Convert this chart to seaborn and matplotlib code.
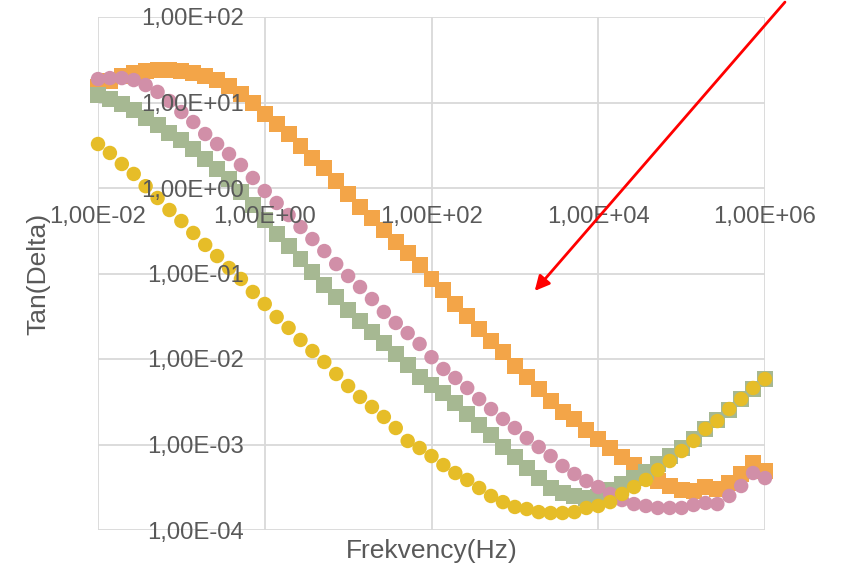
import pandas as pd
import seaborn as sns
import matplotlib.pyplot as plt

# frekvence (Hz), 7 bodu na dekadu
freq = [0.01, 0.01389, 0.01931, 0.02683, 0.03728, 0.05179, 0.07197,
        0.1, 0.1389, 0.1931, 0.2683, 0.3728, 0.5179, 0.7197,
        1, 1.389, 1.931, 2.683, 3.728, 5.179, 7.197,
        10, 13.89, 19.31, 26.83, 37.28, 51.79, 71.97,
        100, 138.9, 193.1, 268.3, 372.8, 517.9, 719.7,
        1000, 1389, 1931, 2683, 3728, 5179, 7197,
        10000, 13890, 19310, 26830, 37280, 51790, 71970,
        100000, 138900, 193100, 268300, 372800, 517900, 719700,
        1000000]

tan_orange = [15.2, 17.8, 20.4, 22.1, 23.4, 24.0, 24.0,
              23.4, 22.1, 20.4, 18.3, 15.6, 12.6, 9.87,
              7.33, 5.60, 4.28, 3.10, 2.24, 1.71, 1.21,
              0.851, 0.600, 0.446, 0.323, 0.234, 0.174, 0.126,
              0.0863, 0.0641, 0.0440, 0.0318, 0.0224, 0.0162, 0.0121,
              0.00828, 0.00616, 0.00446, 0.00323, 0.00240, 0.00199, 0.00148,
              0.00116, 0.000910, 0.000714, 0.000575, 0.000452, 0.000374, 0.000327,
              0.000294, 0.000286, 0.000318, 0.000302, 0.000355, 0.000452, 0.000608,
              0.000490]

tan_green = [12.2, 11.0, 9.60, 8.17, 6.59, 5.45, 4.40,
             3.64, 2.86, 2.18, 1.67, 1.27, 0.898, 0.633,
             0.422, 0.290, 0.210, 0.148, 0.104, 0.0733, 0.0531,
             0.0374, 0.0278, 0.0207, 0.0154, 0.0114, 0.00851, 0.00616,
             0.00496, 0.00400, 0.00306, 0.00227, 0.00169, 0.00129, 0.000935,
             0.000714, 0.000531, 0.000406, 0.000310, 0.000271, 0.000250, 0.000237,
             0.000243, 0.000294, 0.000345, 0.000406, 0.000476, 0.000591, 0.000733,
             0.000910, 0.00116, 0.00152, 0.00194, 0.00253, 0.00340, 0.00446,
             0.00583]

tan_pink = [18.8, 19.3, 19.3, 18.3, 16.0, 13.3, 10.4,
            7.74, 5.91, 4.28, 3.27, 2.50, 1.86, 1.31,
            0.922, 0.668, 0.483, 0.350, 0.253, 0.183, 0.129,
            0.0935, 0.0695, 0.0503, 0.0355, 0.0264, 0.0201, 0.0150,
            0.0105, 0.00764, 0.00600, 0.00458, 0.00340, 0.00260, 0.00199,
            0.00156, 0.00119, 0.000935, 0.000733, 0.000561, 0.000452, 0.000374,
            0.000318, 0.000264, 0.000224, 0.000201, 0.000191, 0.000181, 0.000181,
            0.000181, 0.000196, 0.000207, 0.000201, 0.000250, 0.000327, 0.000464,
            0.000405]

tan_yellow = [3.27, 2.57, 1.91, 1.46, 1.05, 0.764, 0.553,
              0.411, 0.298, 0.216, 0.160, 0.116, 0.0863, 0.0608,
              0.0440, 0.0310, 0.0231, 0.0167, 0.0124, 0.00923, 0.00668,
              0.00483, 0.00360, 0.00275, 0.00210, 0.00156, 0.00110, 0.000910,
              0.000733, 0.000575, 0.000464, 0.000385, 0.000310, 0.000250, 0.000212,
              0.000186, 0.000176, 0.000162, 0.000158, 0.000158, 0.000162, 0.000181,
              0.000191, 0.000212, 0.000264, 0.000318, 0.000385, 0.000503, 0.000641,
              0.000839, 0.00110, 0.00152, 0.00188, 0.00260, 0.00340, 0.00458,
              0.00583]

x_ticks = [1e-2, 1e0, 1e2, 1e4, 1e6]
x_labels = ['1,00E-02', '1,00E+00', '1,00E+02', '1,00E+04', '1,00E+06']
y_ticks = [1e-4, 1e-3, 1e-2, 1e-1, 1e0, 1e1, 1e2]
y_labels = ['1,00E-04', '1,00E-03', '1,00E-02', '1,00E-01',
            '1,00E+00', '1,00E+01', '1,00E+02']

# poradi = poradi vykresleni
serie = {'A': tan_orange, 'B': tan_green, 'C': tan_pink, 'D': tan_yellow}
barvy = {'A': '#F3A548', 'B': '#A6B892', 'C': '#D18FA8', 'D': '#E6BD28'}
znacky = {'A': 's', 'B': 's', 'C': 'o', 'D': 'o'}
velikosti = {'A': 132, 'B': 132, 'C': 108, 'D': 108}

df = pd.concat([pd.DataFrame({'freq': freq, 'tan': v, 'serie': k})
                for k, v in serie.items()], ignore_index=True)

sns.set_theme(style='white')
plt.rcParams['font.family'] = ['Liberation Sans', 'DejaVu Sans']

fig = plt.figure(figsize=(8.46, 5.67), dpi=100)
ax = fig.add_axes([98 / 846, 37 / 567, 667 / 846, 513 / 567])

sns.scatterplot(data=df, x='freq', y='tan', hue='serie', style='serie',
                size='serie', sizes=velikosti,
                palette=barvy, markers=znacky, linewidth=0,
                legend=False, clip_on=False, zorder=1, ax=ax)

ax.set_xscale('log')
ax.set_yscale('log')
ax.set_xlim(1e-2, 1e6)
ax.set_ylim(1e-4, 1e2)
ax.set_xticks(x_ticks, x_labels)
ax.set_yticks(y_ticks, y_labels)
ax.minorticks_off()

# mrizka pod body, popisky os nad body
ax.grid(False)
for t in x_ticks:
    ax.axvline(t, color='#D9D9D9', lw=1.3, zorder=0)
for t in y_ticks:
    ax.axhline(t, color='#D9D9D9', lw=1.3, zorder=0)
ax.set_axisbelow(False)

# osy se protinaji v bode (1, 1) jako v Excelu
for s in ax.spines.values():
    s.set_visible(False)
ax.spines['bottom'].set_position(('data', 1))
ax.spines['left'].set_position(('data', 1))
ax.tick_params(length=0, labelsize=17.2, labelcolor='#595959')
ax.tick_params(axis='x', pad=13)
ax.tick_params(axis='y', pad=15)

ax.set_xlabel('Frekvency(Hz)', fontsize=19, color='#595959')
ax.set_ylabel('Tan(Delta)', fontsize=19, color='#595959')
ax.xaxis.set_label_coords(0.5, -0.017)
ax.yaxis.set_label_coords(-0.072, 0.5)

ax.annotate('', xy=(1644, 0.0591), xycoords='data',
            xytext=(0.93, 1.0), textcoords='figure fraction',
            arrowprops=dict(arrowstyle='-|>', color='red', lw=2,
                            mutation_scale=22),
            annotation_clip=False, zorder=5)

plt.savefig('out.png', dpi=100)
